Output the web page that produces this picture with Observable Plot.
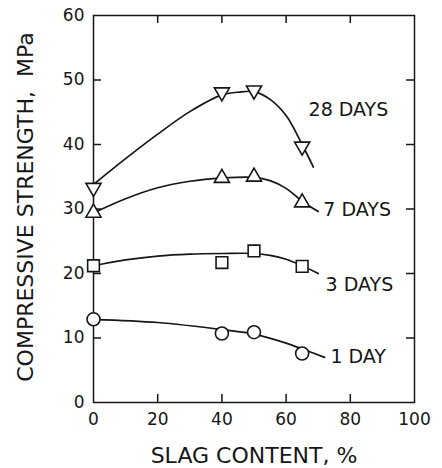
<!DOCTYPE html>
<html><head><meta charset="utf-8">
<script src="https://cdn.jsdelivr.net/npm/d3@7"></script>
<script src="https://cdn.jsdelivr.net/npm/@observablehq/plot@0.6"></script>
<style>
body{margin:0;background:#fff;}
svg{font-family:"DejaVu Sans",sans-serif;}
</style></head><body><div id="chart"></div>
<script>
// measured points
const slag = [0, 40, 50, 65];
const day1 = [12.9, 10.7, 10.9, 7.6];
const day3 = [21.2, 21.7, 23.5, 21.1];
const day7 = [29.4, 34.8, 35.0, 31.0];
const day28 = [33.3, 48.1, 48.4, 39.7];
// fitted curves as drawn
const fit1X = [0, 20, 40, 50, 60, 65, 72];
const fit1Y = [12.9, 12.4, 11.3, 10.6, 9.2, 8.3, 7.0];
const fit3X = [0, 10, 20, 30, 40, 50, 55, 60, 65, 70];
const fit3Y = [21.2, 22.1, 22.7, 23.0, 23.1, 23.1, 22.8, 22.2, 21.2, 20.0];
const fit7X = [0, 10, 20, 30, 40, 50, 55, 60, 65, 70];
const fit7Y = [29.4, 31.6, 33.3, 34.3, 34.8, 34.9, 34.4, 33.2, 31.2, 29.6];
const fit28X = [0, 10, 20, 30, 40, 45, 50, 55, 60, 65, 68.5];
const fit28Y = [33.8, 37.8, 41.6, 45.1, 47.7, 48.1, 48.2, 47.0, 44.5, 40.0, 36.5];
// labels
const labelText = ["28 DAYS", "7 DAYS", "3 DAYS", "1 DAY"];
const labelX = [67, 71.6, 72.3, 73.8];
const labelY = [45.3, 29.8, 18.3, 7.0];
const xTicks = [0, 20, 40, 60, 80, 100];
const yTicks = [0, 10, 20, 30, 40, 50, 60];
const xInner = [20, 40, 60, 80];
const yInner = [10, 20, 30, 40, 50];

const sqrt3 = Math.sqrt(3);
const triDown = {draw(ctx, size){
  const y = -Math.sqrt(size / (sqrt3 * 3));
  ctx.moveTo(0, -y * 2); ctx.lineTo(-sqrt3 * y, y); ctx.lineTo(sqrt3 * y, y); ctx.closePath();}};

const series = [
  {name:"1 DAY", ys: day1, fx: fit1X, fy: fit1Y, sym: "circle", r: 6.5},
  {name:"3 DAYS", ys: day3, fx: fit3X, fy: fit3Y, sym: "square", r: 6.6},
  {name:"7 DAYS", ys: day7, fx: fit7X, fy: fit7Y, sym: "triangle", r: 5.6},
  {name:"28 DAYS", ys: day28, fx: fit28X, fy: fit28Y, sym: triDown, r: 5.6}
];
const ink = "#161616";
const W = 442, H = 468, mL = 93, mR = 28, mT = 15, mB = 66;
const fw = W - mL - mR, fh = H - mT - mB, tk = 8;
const marks = [];
for (const s of series) {
  const fit = s.fx.map((x, i) => ({x, y: s.fy[i]}));
  marks.push(Plot.line(fit, {x: "x", y: "y", curve: "catmull-rom", stroke: ink, strokeWidth: 1.7}));
  const pts = slag.map((x, i) => ({x, y: s.ys[i]}));
  marks.push(Plot.dot(pts, {x: "x", y: "y", symbol: () => s.sym, r: s.r, fill: "white", stroke: ink, strokeWidth: 1.6}));
}
const labels = labelText.map((t, i) => ({t, x: labelX[i], y: labelY[i]}));

const chart = Plot.plot({
  width: W, height: H,
  marginLeft: mL, marginRight: mR, marginTop: mT, marginBottom: mB,
  x: {domain: [0, 100]},
  y: {domain: [0, 60]},
  symbol: {type: "identity"},
  style: {fontFamily: "DejaVu Sans, sans-serif", color: ink},
  marks: [
    Plot.frame({stroke: ink, strokeWidth: 1.5}),
    Plot.axisX({ticks: xTicks, tickSize: 0, tickPadding: 10, fontSize: 17, label: null}),
    Plot.axisY({ticks: yTicks, tickSize: 0, tickPadding: 9, fontSize: 17, label: null}),
    Plot.ruleX(xInner, {insetTop: fh - tk, stroke: ink, strokeWidth: 1.5}),
    Plot.ruleX(xInner, {insetBottom: fh - tk, stroke: ink, strokeWidth: 1.5}),
    Plot.ruleY(yInner, {insetRight: fw - tk, stroke: ink, strokeWidth: 1.5}),
    Plot.ruleY(yInner, {insetLeft: fw - tk, stroke: ink, strokeWidth: 1.5}),
    ...marks,
    Plot.text(labels, {x: "x", y: "y", text: "t", textAnchor: "start", fontSize: 19, fill: ink}),
    Plot.text(["SLAG CONTENT, %"], {frameAnchor: "bottom", dy: 60, fontSize: 22, fill: ink, letterSpacing: 3.2}),
    Plot.text(["COMPRESSIVE STRENGTH,  MPa"], {frameAnchor: "left", textAnchor: "middle", dx: -68, dy: -2, rotate: -90, fontSize: 22, fill: ink, letterSpacing: 2.8})
  ]
});
document.getElementById("chart").append(chart);
</script></body></html>
